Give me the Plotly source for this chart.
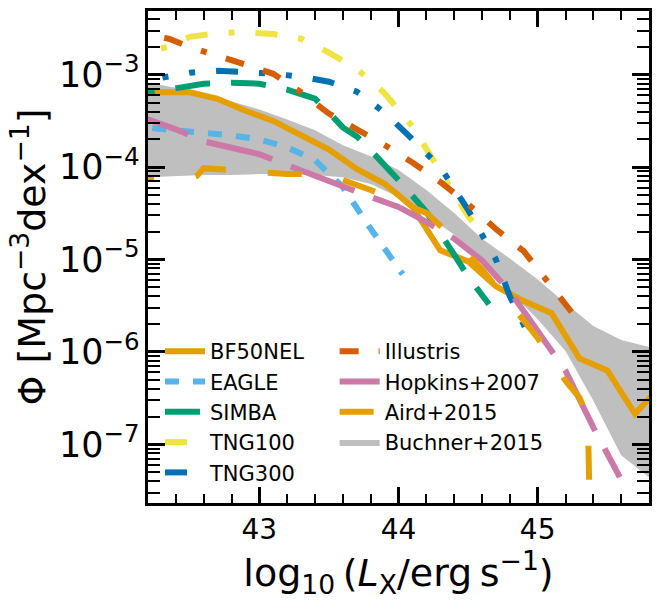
import plotly.graph_objects as go

# X-ray luminosity functions: log10 L_X [erg s^-1] vs log10 Phi [Mpc^-3 dex^-1]

bf50nel_lx = [42.1, 42.3, 42.5, 42.7, 42.9, 43.1, 43.3, 43.5, 43.7, 43.9,
              44.1, 44.3, 44.5, 44.7, 44.9, 45.1, 45.3, 45.5, 45.7, 45.9]
bf50nel_logphi = [-3.19, -3.19, -3.19, -3.26, -3.39, -3.50, -3.65, -3.81, -4.02, -4.18,
                  -4.43, -4.90, -5.02, -5.29, -5.45, -5.58, -6.07, -6.20, -6.67, -6.34]

eagle_lx = [42.03, 42.2, 42.4, 42.6, 42.8, 43.0, 43.2, 43.4, 43.6, 43.8, 44.0, 44.03]
eagle_logphi = [-3.55, -3.57, -3.60, -3.62, -3.656, -3.70, -3.785, -3.925, -4.215, -4.667,
                -5.097, -5.16]

simba_lx = [42.0, 42.2, 42.4, 42.6, 42.8, 43.0, 43.2, 43.4, 43.5, 43.6, 43.7, 43.8,
            44.0, 44.2, 44.4, 44.5, 44.65]
simba_logphi = [-3.247, -3.194, -3.14, -3.097, -3.086, -3.097, -3.161, -3.258, -3.409,
                -3.57, -3.667, -3.817, -4.14, -4.484, -4.946, -5.183, -5.484]

tng100_lx = [42.0, 42.35, 42.5, 42.7, 42.9, 43.1, 43.3, 43.5, 43.7, 43.9, 44.1, 44.3,
             44.5, 44.6]
tng100_logphi = [-2.86, -2.69, -2.59, -2.55, -2.54, -2.56, -2.61, -2.76, -2.935, -3.20,
                 -3.56, -4.03, -4.53, -4.70]

tng300_lx = [42.0, 42.35, 42.5, 42.7, 42.9, 43.1, 43.3, 43.5, 43.7, 43.9, 44.1, 44.3,
             44.5, 44.7, 44.8, 44.9, 44.95]
tng300_logphi = [-3.11, -3.011, -2.978, -2.957, -2.968, -2.989, -3.022, -3.075, -3.183,
                 -3.409, -3.699, -4.0, -4.462, -5.0, -5.398, -5.688, -5.86]

illustris_lx = [42.04, 42.35, 42.5, 42.7, 42.9, 43.1, 43.3, 43.5, 43.7, 43.9, 44.1,
                44.3, 44.5, 44.7, 44.9, 45.1, 45.25]
illustris_logphi = [-2.53, -2.61, -2.70, -2.79, -2.89, -2.99, -3.19, -3.42, -3.59, -3.76,
                    -3.95, -4.16, -4.40, -4.67, -4.91, -5.30, -5.58]

hopkins_lx = [42.03, 42.2, 42.4, 42.6, 42.8, 43.0, 43.2, 43.4, 43.6, 43.8, 44.0, 44.2,
              44.4, 44.6, 44.8, 45.0, 45.2, 45.4, 45.59]
hopkins_logphi = [-3.39, -3.484, -3.591, -3.72, -3.796, -3.86, -3.978, -4.097, -4.204,
                  -4.323, -4.43, -4.591, -4.774, -5.01, -5.344, -5.774, -6.204, -6.817,
                  -7.355]

aird_lx = [42.0, 42.2, 42.5, 42.55, 42.6, 42.8, 43.0, 43.2, 43.4, 43.6, 43.8, 44.0,
           44.2, 44.4, 44.6, 44.8, 45.0, 45.2, 45.3, 45.36, 45.37]
aird_logphi = [-4.13, -4.118, -4.129, -4.097, -4.011, -4.032, -4.065, -4.075, -4.075,
               -4.14, -4.247, -4.366, -4.495, -4.774, -5.108, -5.473, -5.849, -6.312,
               -6.495, -6.70, -7.40]

buchner_lx = [42.2, 42.4, 42.6, 42.8, 43.0, 43.2, 43.4, 43.6, 43.8, 44.0,
              44.2, 44.4, 44.6, 44.8, 45.0, 45.2, 45.4, 45.6, 45.8]
buchner_logphi_hi = [-3.086, -3.14, -3.204, -3.29, -3.376, -3.484, -3.602, -3.763, -3.882,
                     -4.032, -4.247, -4.495, -4.774, -4.989, -5.215, -5.473, -5.72, -5.871,
                     -5.946]
buchner_logphi_lo = [-4.108, -4.097, -4.086, -4.086, -4.075, -4.075, -4.086, -4.108, -4.183,
                     -4.323, -4.516, -4.731, -5.0, -5.344, -5.645, -5.989, -6.527, -7.118,
                     -7.355]

x_ticks = [43, 44, 45]

FONT = "DejaVu Sans"
LW = 6


def phi(logs):
    return [10 ** v for v in logs]


fig = go.Figure()

# Buchner+2015 uncertainty band (drawn first so the curves sit on top)
fig.add_trace(go.Scatter(
    x=buchner_lx + buchner_lx[::-1],
    y=phi(buchner_logphi_hi + buchner_logphi_lo[::-1]),
    mode="lines", fill="toself", fillcolor="#BFBFBF",
    line=dict(width=0, color="#BFBFBF"),
    name="Buchner+2015", legend="legend2", legendrank=4, hoverinfo="skip",
))

curves = [
    ("BF50NEL", bf50nel_lx, bf50nel_logphi, "#E69F00", "solid", "legend", 1),
    ("EAGLE", eagle_lx, eagle_logphi, "#56B4E9", "14px,14px", "legend", 2),
    ("SIMBA", simba_lx, simba_logphi, "#009E73", "35px,21px", "legend", 3),
    ("TNG100", tng100_lx, tng100_logphi, "#F0E442", "22px,21px,6px,21px", "legend", 4),
    ("TNG300", tng300_lx, tng300_logphi, "#0072B2",
     "22px,21px,6px,21px,6px,21px", "legend", 5),
    ("Illustris", illustris_lx, illustris_logphi, "#D55E00",
     "19px,20px,19px,20px,6px,20px", "legend2", 1),
    ("Hopkins+2007", hopkins_lx, hopkins_logphi, "#CC79A7", "68px,20px", "legend2", 2),
    ("Aird+2015", aird_lx, aird_logphi, "#E69F00", "34px,42px", "legend2", 3),
]

for name, xs, ys, color, dash, leg, rank in curves:
    fig.add_trace(go.Scatter(
        x=xs, y=phi(ys), mode="lines", name=name,
        line=dict(color=color, width=LW, dash=dash),
        legend=leg, legendrank=rank,
    ))

L, R, T, B = 148, 10, 8, 97
W, H = 660, 600

legend_common = dict(
    bgcolor="rgba(0,0,0,0)", borderwidth=0,
    font=dict(family=FONT, size=21, color="black"),
    itemwidth=40, tracegroupgap=0,
    xanchor="left", yanchor="top", traceorder="normal",
)

fig.update_layout(
    width=W, height=H,
    margin=dict(l=L, r=R, t=T, b=B),
    paper_bgcolor="white", plot_bgcolor="white",
    font=dict(family=FONT, color="black"),
    legend=dict(x=(160 - L) / (W - L - R), y=1 - (330 - T) / (H - T - B), **legend_common),
    legend2=dict(x=(335 - L) / (W - L - R), y=1 - (330 - T) / (H - T - B), **legend_common),
    xaxis=dict(
        range=[42.2, 45.8], tickvals=x_ticks, ticktext=[str(v) for v in x_ticks],
        ticks="inside", ticklen=16, tickwidth=2.5, tickcolor="black",
        showline=True, linecolor="black", linewidth=2.5, mirror="allticks",
        showgrid=False, zeroline=False,
        tickfont=dict(family=FONT, size=28, color="black"),
        minor=dict(ticks="inside", dtick=0.2, tick0=43, ticklen=9, tickwidth=2,
                   tickcolor="black", showgrid=False),
        title=dict(text="log<sub>10</sub>\u2009(<i>L</i><sub>X</sub>/erg\u2009s<sup>\u22121</sup>)",
                   font=dict(family=FONT, size=38, color="black"), standoff=12),
    ),
    yaxis=dict(
        type="log", range=[-7.635, -2.31], dtick=1, exponentformat="power",
        ticks="inside", ticklen=17, tickwidth=2.5, tickcolor="black",
        showline=True, linecolor="black", linewidth=2.5, mirror="allticks",
        showgrid=False, zeroline=False,
        tickfont=dict(family=FONT, size=28, color="black"),
        minor=dict(ticks="inside", dtick="D1", ticklen=12, tickwidth=2,
                   tickcolor="black", showgrid=False),
        title=dict(text="\u03a6 [Mpc<sup>\u22123</sup>dex<sup>\u22121</sup>]",
                   font=dict(family=FONT, size=38, color="black"), standoff=2),
    ),
)

fig.write_html("out.html")
